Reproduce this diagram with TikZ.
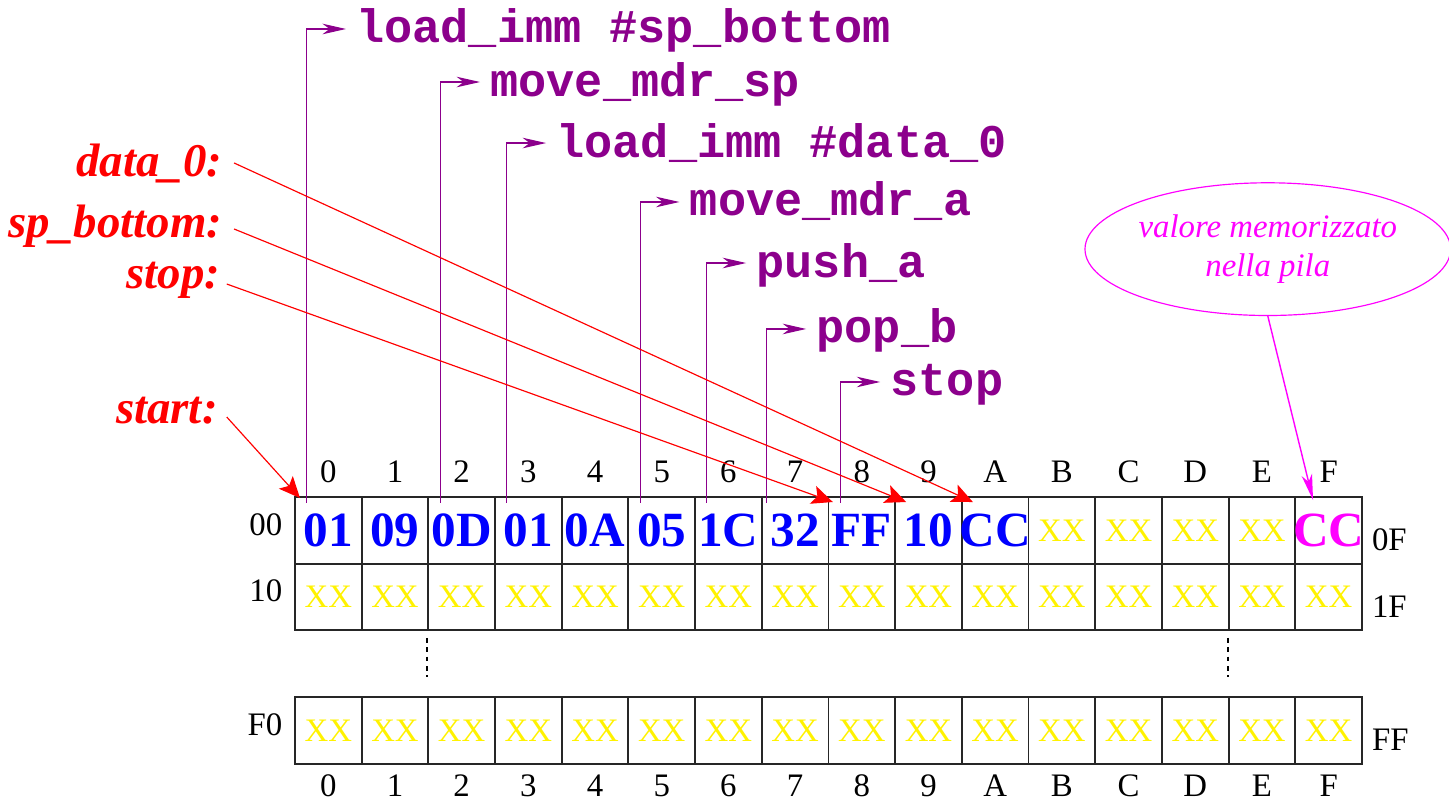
\documentclass[tikz,border=0pt]{standalone}
\usepackage{fontspec}
\setmainfont{Liberation Serif}
\newfontfamily\codefont{Liberation Mono}
\usepackage{tikz}
\usetikzlibrary{positioning}
\usetikzlibrary{arrows.meta}
\usetikzlibrary{shapes.geometric}
\usepackage{xcolor}
\definecolor{instrpurple}{RGB}{140,0,140}
\definecolor{notemagenta}{RGB}{255,0,255}

\begin{document}
\begin{tikzpicture}[node distance=1cm,
    memcell/.style={draw=black!85, line width=0.8pt, rectangle, text width=1cm, align=center, minimum height=1cm, inner sep=0pt, anchor=north west},
    byte/.style={font=\fontsize{21}{25}\selectfont\bfseries, text=blue},
    unknown/.style={font=\fontsize{14}{17}\selectfont, text=yellow},
    addr/.style={font=\fontsize{14}{17}\selectfont, inner sep=0pt},
    instr/.style={font=\fontsize{20}{24}\selectfont\codefont\bfseries, text=instrpurple, inner sep=0pt},
    symlabel/.style={font=\fontsize{20}{24}\selectfont\bfseries\itshape, text=red, inner sep=0pt, anchor=base east},
    instrline/.style={draw=instrpurple, line width=0.5pt, -{Stealth[length=10pt, width=4.5pt, inset=3pt]}},
    symline/.style={draw=red, line width=0.5pt, -{Stealth[length=9pt, width=8pt, inset=2pt]}},
    noteline/.style={draw=notemagenta, line width=0.6pt, -{Stealth[length=11pt, width=4.5pt, inset=3pt]}},
    skipmark/.style={line width=0.9pt, dash pattern=on 2pt off 2pt}]
    \useasboundingbox (0,0) rectangle (21.727,11.996);

    % Memory rows 00, 10 and F0
    \foreach \v [count=\i from 0] in {01,09,0D,01,0A,05,1C,32,FF,10,CC}
        \node[memcell, byte] (c0-\i) at (4.408+\i, 4.558) {\hspace*{-1em}\v\hspace*{-1em}};
    \foreach \i in {11,...,14}
        \node[memcell, unknown] (c0-\i) at (4.408+\i, 4.558) {XX};
    \node[memcell, byte, text=notemagenta] (c0-15) at (4.408+15, 4.558) {\hspace*{-1em}CC\hspace*{-1em}};
    \foreach \i in {0,...,15} {
        \node[memcell, unknown] (c1-\i) at (4.408+\i, 3.558) {XX};
        \node[memcell, unknown] (c2-\i) at (4.408+\i, 1.559) {XX};
    }

    % Column and row addresses
    \foreach \h [count=\i from 0] in {0,1,2,3,4,5,6,7,8,9,A,B,C,D,E,F} {
        \node[addr, above=0.19cm of c0-\i] (top-\h) {\h};
        \node[addr, below=0.15cm of c2-\i] (bot-\h) {\h};
    }
    \node[addr, below left=0.25cm and 0.17cm of c0-0.north west] (row-00) {00};
    \node[addr, below left=0.25cm and 0.17cm of c1-0.north west] (row-10) {10};
    \node[addr, below left=0.25cm and 0.17cm of c2-0.north west] (row-F0) {F0};
    \node[addr, above right=0.2cm and 0.13cm of c0-15.south east] (end-0F) {0F};
    \node[addr, above right=0.2cm and 0.13cm of c1-15.south east] (end-1F) {1F};
    \node[addr, above right=0.2cm and 0.13cm of c2-15.south east] (end-FF) {FF};

    % Skipped rows
    \draw[skipmark] ([yshift=-0.1cm]c1-2.south west) -- ([yshift=-0.68cm]c1-2.south west);
    \draw[skipmark] ([yshift=-0.1cm]c1-14.south west) -- ([yshift=-0.68cm]c1-14.south west);

    % Instructions
    \foreach \col/\dx/\y/\txt [count=\k] in {
        0/0.19/11.561/{load\_imm \#sp\_bottom},
        2/0.20/10.766/{move\_mdr\_sp},
        3/0.19/9.851/{load\_imm \#data\_0},
        5/0.19/8.967/{move\_mdr\_a},
        6/0.19/8.052/{push\_a},
        7/0.09/7.063/{pop\_b},
        8/0.20/6.268/{stop}} {
        \coordinate (foot-\k) at ([xshift=\dx cm, yshift=-0.1cm]c0-\col.north west);
        \coordinate (bend-\k) at (foot-\k |- 0,\y);
        \coordinate[right=0.59cm of bend-\k] (tip-\k);
        \node[instr, right=0.15cm of tip-\k, anchor=base west, yshift=-0.21cm] (ins-\k) {\txt};
        \draw[instrline] (foot-\k) |- (tip-\k);
    }

    % Symbols
    \node[symlabel] (lbl-data) at (3.34, 9.342) {data\_0:};
    \node[symlabel] (lbl-sp) at (3.34, 8.442) {sp\_bottom:};
    \node[symlabel] (lbl-stop) at (3.31, 7.677) {stop:};
    \node[symlabel] (lbl-start) at (3.27, 5.653) {start:};
    \draw[symline] ([shift={(0.17,0.21)}]lbl-data.base east) -- ([shift={(0.18,-0.09)}]c0-10.north west);
    \draw[symline] ([shift={(0.17,0.12)}]lbl-sp.base east) -- ([shift={(0.18,-0.09)}]c0-9.north west);
    \draw[symline] ([shift={(0.09,0.06)}]lbl-stop.base east) -- ([shift={(0.08,-0.09)}]c0-8.north west);
    \draw[symline] ([shift={(0.13,0.09)}]lbl-start.base east) -- ([shift={(0.09,-0.03)}]c0-0.north west);

    % Stack note
    \node[draw=notemagenta, line width=0.5pt, ellipse, minimum width=5.22cm, minimum height=1.99cm, inner sep=0pt, align=center, font=\fontsize{14}{17}\selectfont\itshape, text=notemagenta] (note) at (19.01, 8.26) {valore memorizzato\\nella pila};
    \draw[noteline] (note.south) -- ([shift={(0.28,-0.06)}]c0-15.north west);
\end{tikzpicture}
\end{document}
